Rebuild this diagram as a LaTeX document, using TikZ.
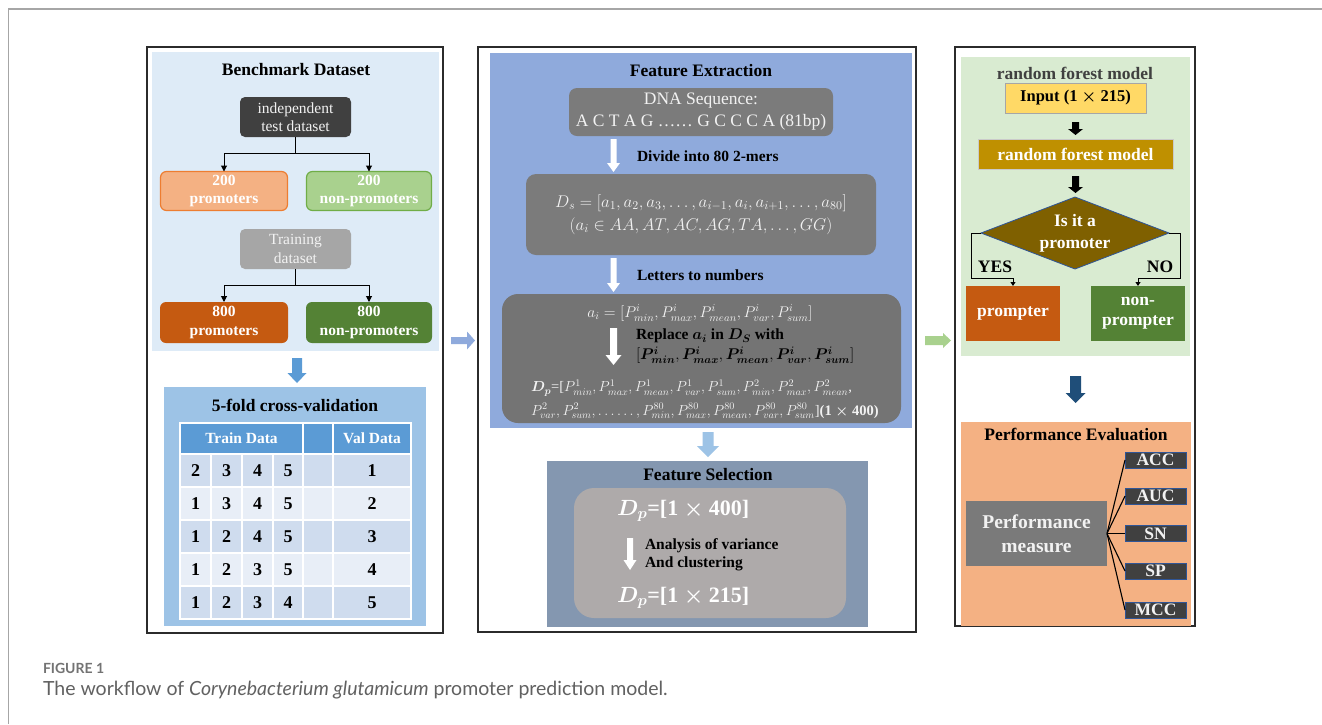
\RequirePackage{fix-cm}
\documentclass[tikz,border=0pt]{standalone}
\usepackage{amsmath,bm}
\usepackage{fontspec}
\setmainfont{Liberation Serif}
\newfontfamily\capfont{Lato}
\usetikzlibrary{arrows.meta,shapes.geometric}

\definecolor{frm}{HTML}{A6A6A6}
\definecolor{pnlc}{HTML}{2B2B2B}
\definecolor{lb}{HTML}{DEEBF7}
\definecolor{dk}{HTML}{404040}
\definecolor{orL}{HTML}{F4B183}
\definecolor{orB}{HTML}{ED7D31}
\definecolor{grL}{HTML}{A9D18E}
\definecolor{grB}{HTML}{70AD47}
\definecolor{trg}{HTML}{A6A6A6}
\definecolor{orD}{HTML}{C55A11}
\definecolor{grD}{HTML}{548235}
\definecolor{cvb}{HTML}{9DC3E6}
\definecolor{hdr}{HTML}{5B9BD5}
\definecolor{rowD}{HTML}{CFDCEE}
\definecolor{rowL}{HTML}{E8EEF7}
\definecolor{mb}{HTML}{8FAADC}
\definecolor{gb}{HTML}{7B7B7B}
\definecolor{gb2}{HTML}{747474}
\definecolor{fsb}{HTML}{8497B0}
\definecolor{fsg}{HTML}{AEAAAA}
\definecolor{rg}{HTML}{D9EBD1}
\definecolor{yel}{HTML}{FFD966}
\definecolor{gold}{HTML}{BF9000}
\definecolor{brn}{HTML}{7F6000}
\definecolor{dblue}{HTML}{2F5597}
\definecolor{navy}{HTML}{1F4E79}
\definecolor{pe}{HTML}{F4B183}
\definecolor{pmg}{HTML}{7A7A7A}
\definecolor{wt}{HTML}{F2F2F2}

\newcommand{\myvarrow}[7]{\fill[#7] ({#1-#4},#2) -- ({#1+#4},#2) -- ({#1+#4},{#3-#6}) -- ({#1+#5},{#3-#6}) -- (#1,#3) -- ({#1-#5},{#3-#6}) -- ({#1-#4},{#3-#6}) -- cycle;}
\newcommand{\myharrow}[7]{\fill[#7] (#1,{#3-#4}) -- ({#2-#6},{#3-#4}) -- ({#2-#6},{#3-#5}) -- (#2,#3) -- ({#2-#6},{#3+#5}) -- ({#2-#6},{#3+#4}) -- (#1,{#3+#4}) -- cycle;}

\begin{document}
\begin{tikzpicture}[x=1pt,y=-1pt,
  bx/.style={inner sep=0pt, outer sep=0pt, align=center},
  ttl/.style={font=\fontsize{17.5}{20}\selectfont\bfseries},
  lbl/.style={font=\fontsize{15.5}{18.5}\selectfont\bfseries},
  rtx/.style={font=\fontsize{15.5}{18.5}\selectfont},
  pnl/.style={draw=pnlc, line width=1.6pt},
  arr/.style={-{Triangle[length=6pt,width=6pt]}, line width=1pt, black},
  sarr/.style={-{Triangle[length=4pt,width=5pt]}, line width=1pt, black},
  num/.style={font=\fontsize{18}{20}\selectfont\bfseries},
  dpl/.style={bx, font=\fontsize{14.5}{18}\selectfont, text=wt, anchor=west}
]
\useasboundingbox (0,0) rectangle (1322,724);
\fill[white] (0,0) rectangle (1322,724);
% outer frame
\draw[frm, line width=1.2pt] (8.5,724) -- (8.5,9) -- (1322,9);

% ================= LEFT PANEL =================
\draw[pnl] (147,47) rectangle (443,633);
\fill[lb] (152,52) rectangle (439,351);
\node[bx, ttl] (bt) at (296,70) {Benchmark Dataset};
\node[bx, rtx, fill=dk, text=wt, rounded corners=5pt, minimum width=111pt, minimum height=40pt] (ind) at (295.5,117) {independent\\test dataset};
\node[bx, lbl, fill=orL, draw=orB, line width=1.2pt, text=white, rounded corners=6pt, minimum width=127pt, minimum height=39pt] (p200) at (224,191) {200\\promoters};
\node[bx, lbl, fill=grL, draw=grB, line width=1.2pt, text=white, rounded corners=6pt, minimum width=125pt, minimum height=39pt] (np200) at (369,191) {200\\non-promoters};
\node[bx, rtx, fill=trg, text=wt, rounded corners=5pt, minimum width=111pt, minimum height=40pt] (trn) at (295.5,249) {Training\\dataset};
\node[bx, lbl, fill=orD, text=white, rounded corners=6pt, minimum width=128pt, minimum height=41pt] (p800) at (224,322.5) {800\\promoters};
\node[bx, lbl, fill=grD, text=white, rounded corners=6pt, minimum width=126pt, minimum height=41pt] (np800) at (369,322.5) {800\\non-promoters};
\draw[arr] (ind.south) -- ++(0,16) -| (p200.north);
\draw[arr] (ind.south) -- ++(0,16) -| (np200.north);
\draw[arr] (trn.south) -- ++(0,16) -| (p800.north);
\draw[arr] (trn.south) -- ++(0,16) -| (np800.north);

\myvarrow{297}{358}{383}{5}{9.5}{10}{hdr}

% cross validation
\fill[cvb] (164,387) rectangle (426,626);
\node[bx, ttl] (cvt) at (295,405) {5-fold cross-validation};
\fill[hdr] (180,423) rectangle (411,453);
\draw[white, line width=2pt] (180,423) rectangle (411,619);
\draw[white, line width=2pt] (303,423) -- (303,619) (333,423) -- (333,619);
\node[bx, font=\fontsize{15.5}{18}\selectfont\bfseries, text=white] (tdh) at (241.5,438) {Train Data};
\node[bx, font=\fontsize{15.5}{18}\selectfont\bfseries, text=white] (vdh) at (372,438) {Val Data};
\foreach \r/\a/\b/\c/\d/\v/\col in {1/2/3/4/5/1/rowD, 2/1/3/4/5/2/rowL, 3/1/2/4/5/3/rowD, 4/1/2/3/5/4/rowL, 5/1/2/3/4/5/rowD}{
  \pgfmathsetmacro{\yt}{454+(\r-1)*33}
  \pgfmathsetmacro{\yb}{\yt+33}
  \pgfmathsetmacro{\ym}{\yt+16.5}
  \foreach \xl/\xr in {180/211, 211/242, 242/273, 273/303, 303/333, 333/411}{
    \fill[\col, draw=white, line width=2pt] (\xl,\yt) rectangle (\xr,\yb);
  }
  \node[bx, num] (c\r a) at (195.5,\ym) {\a};
  \node[bx, num] (c\r b) at (226.5,\ym) {\b};
  \node[bx, num] (c\r c) at (257.5,\ym) {\c};
  \node[bx, num] (c\r d) at (288,\ym) {\d};
  \node[bx, num] (c\r v) at (372,\ym) {\v};
}

% arrow left -> middle
\myharrow{451}{475}{340.5}{3.5}{9}{8}{mb}

% ================= MIDDLE PANEL =================
\draw[pnl] (478,47) rectangle (916,632);
\fill[mb] (490,53) rectangle (912,428);
\node[bx, ttl] (fet) at (701,71) {Feature Extraction};
\node[bx, font=\fontsize{17.5}{22}\selectfont, text=wt, fill=gb, rounded corners=8pt, minimum width=264pt, minimum height=48pt] (dna) at (701,112) {DNA Sequence:\\A C T A G \dots\dots{} G C C C A (81bp)};
\myvarrow{613.5}{139}{172}{3}{6.5}{9}{white}
\node[bx, lbl, anchor=west] (div) at (637,156) {Divide into 80 2-mers};
\node[bx, font=\fontsize{17}{23}\selectfont, text=wt, fill=gb, rounded corners=10pt, minimum width=350pt, minimum height=81pt] (ds) at (701,214.5) {$D_s=[a_1,a_2,a_3,\dots,a_{i-1},a_i,a_{i+1},\dots,a_{80}]$\\$(a_i\in AA,AT,AC,AG,TA,\dots,GG)$};
\myvarrow{613.5}{258}{292}{3}{6.5}{9}{white}
\node[bx, lbl, anchor=west] (l2n) at (637,275) {Letters to numbers};
\node[bx, fill=gb2, rounded corners=16pt, minimum width=399pt, minimum height=129pt] (big) at (701.5,358.5) {};
\node[bx, font=\fontsize{15.5}{18}\selectfont, text=wt] (ai) at (700,313) {$a_i=[P^i_{min},P^i_{max},P^i_{mean},P^i_{var},P^i_{sum}]$};
\myvarrow{613.5}{328}{365}{3.5}{8}{10}{white}
\node[bx, font=\fontsize{15.5}{20}\selectfont\bfseries, anchor=north west, align=left] (rep) at (636,329) {Replace $\bm{a_i}$ in $\bm{D_S}$ with\\$[\bm{P^i_{min}},\bm{P^i_{max}},\bm{P^i_{mean}},\bm{P^i_{var}},\bm{P^i_{sum}}]$};
\node[dpl] (dpa) at (531,388) {$\bm{D_p}$=[$P^1_{min},P^1_{max},P^1_{mean},P^1_{var},P^1_{sum},P^2_{min},P^2_{max},P^2_{mean}$,};
\node[dpl] (dpb) at (531,411) {$P^2_{var},P^2_{sum},\dots\dots,P^{80}_{min},P^{80}_{max},P^{80}_{mean},P^{80}_{var},P^{80}_{sum}$]\textbf{(1 $\bm{\times}$ 400)}};

\myvarrow{708}{432}{457}{5.5}{11}{11}{cvb}

% feature selection
\fill[fsb] (547,461) rectangle (868,627);
\node[bx, ttl] (fst) at (708,475) {Feature Selection};
\node[bx, fill=fsg, rounded corners=20pt, minimum width=272pt, minimum height=130pt] (fsin) at (710,553) {};
\node[bx, font=\fontsize{22}{24}\selectfont\bfseries, text=white, anchor=west] (dp1) at (617,511) {$\bm{D_p}$=[1 $\bm{\times}$ 400]};
\myvarrow{630}{538}{570}{3}{6.5}{10}{white}
\node[bx, lbl, anchor=west, align=left] (anv) at (645,554.5) {Analysis of variance\\And clustering};
\node[bx, font=\fontsize{22}{24}\selectfont\bfseries, text=white, anchor=west] (dp2) at (617,598) {$\bm{D_p}$=[1 $\bm{\times}$ 215]};

% arrow middle -> right
\myharrow{925}{951}{340.5}{4.5}{7.5}{8}{grL}

% ================= RIGHT PANEL =================
\draw[pnl] (955,47) rectangle (1195,626);
\fill[rg] (961,57) rectangle (1190,356);
\node[bx, ttl, text=dk] (rft) at (1075,73) {random forest model};
\node[bx, font=\fontsize{16.5}{20}\selectfont\bfseries, fill=yel, draw=frm, line width=0.8pt, minimum width=141pt, minimum height=30pt] (inp) at (1075.5,98) {Input (1 $\bm{\times}$ 215)};
\myvarrow{1075.5}{122}{135}{3.5}{7.5}{6}{black}
\node[bx, ttl, text=white, fill=gold, draw=frm!60, line width=0.6pt, minimum width=195pt, minimum height=30pt] (rf) at (1075.5,154) {random forest model};
\myvarrow{1075.5}{176}{193}{3.5}{7.5}{6}{black}
\node[bx, font=\fontsize{17.5}{22}\selectfont\bfseries, text=white, diamond, aspect=2.6, fill=brn, draw=dblue, line width=0.8pt, minimum width=188pt, minimum height=72pt] (dia) at (1075,233) {Is it a\\promoter};
\node[bx, ttl, text=white, fill=orD, minimum width=94pt, minimum height=55pt] (yes) at (1013,313.5) {prompter};
\node[bx, ttl, text=white, fill=grD, minimum width=94pt, minimum height=55pt] (no) at (1138,313.5) {non-\\prompter};
\draw[sarr] (dia.west) -- ++(-10,0) -- ++(0,45) -| (yes.north);
\draw[sarr] (dia.east) -- ++(11,0) -- ++(0,45) -| (no.north);
\node[bx, ttl] (ylab) at (995,267) {YES};
\node[bx, ttl] (nlab) at (1160,267) {NO};

\myvarrow{1075.5}{376}{403}{5.5}{10}{10}{navy}

\fill[pe] (961,422) rectangle (1191,626);
\node[bx, ttl] (pet) at (1076,434) {Performance Evaluation};
\node[bx, font=\fontsize{19.5}{24}\selectfont\bfseries, text=wt, fill=pmg, minimum width=141pt, minimum height=65pt] (pm) at (1036.5,533.5) {Performance\\measure};
\foreach \nm/\yy in {ACC/460, AUC/496, SN/533.5, SP/571, MCC/610}{
  \node[bx, font=\fontsize{17.5}{18}\selectfont\bfseries, text=wt, fill=dk, draw=dblue, line width=1pt, minimum width=61pt, minimum height=16pt] (m\nm) at (1155.5,\yy) {\nm};
  \draw[black, line width=1.1pt] (pm.east) -- (m\nm.west);
}

% ================= CAPTION =================
\node[bx, anchor=west, text=black!55, font=\capfont\bfseries\fontsize{14}{16}\selectfont] (figl) at (43,668) {FIGURE 1};
\node[bx, anchor=west, text=black!62, font=\capfont\fontsize{19.5}{22}\selectfont] (cap) at (43,690) {The workflow of \textit{Corynebacterium glutamicum} promoter prediction model.};
\end{tikzpicture}
\end{document}
